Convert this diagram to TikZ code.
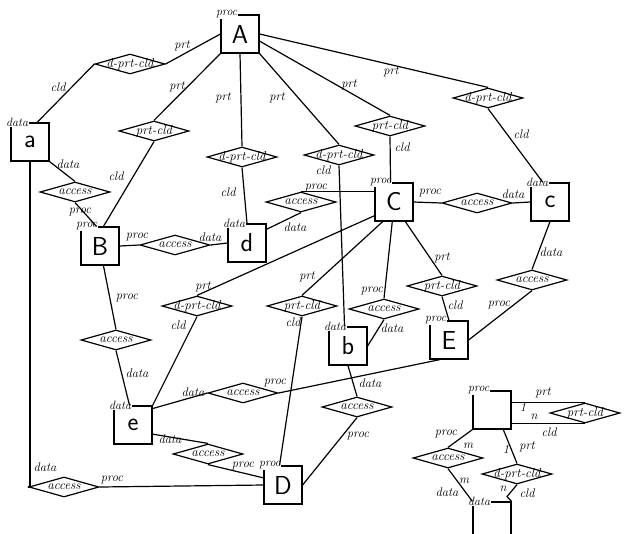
\documentclass[tikz,border=0pt]{standalone}
\usepackage{tikz}
\usetikzlibrary{shapes.geometric,calc}
\tikzset{
 ent/.style={draw, line width=1.2pt, minimum width=38pt, minimum height=38pt, inner sep=0pt, font=\sffamily\fontsize{26}{26}\selectfont},
 rel/.style={draw, diamond, minimum width=70pt, minimum height=20pt, inner sep=0pt, line width=1.2pt,
   label={[inner sep=0pt, font=\itshape\fontsize{13}{13}\selectfont]center:#1}},
 tag/.style={fill=white, inner sep=0.6pt, anchor=west, font=\itshape\fontsize{12}{12}\selectfont},
 lab/.style={inner sep=0pt, font=\itshape\fontsize{12.5}{12.5}\selectfont},
 con/.style={line width=1.2pt},
}
\begin{document}
\begin{tikzpicture}[x=1pt,y=-1pt]
\useasboundingbox (0,0) rectangle (628,533);
\clip (0,0) rectangle (628,533);
\fill[white] (0,0) rectangle (628,533);
% entities
\node[ent] (A) at (240,34) {A};
\node[ent] (a) at (30,142) {a};
\node[ent] (B) at (100,246) {B};
\node[ent] (d) at (247,243) {d};
\node[ent] (C) at (394,202) {C};
\node[ent] (c) at (550,202) {c};
\node[ent] (b) at (348,346) {b};
\node[ent] (E) at (449,340) {E};
\node[ent] (e) at (133,425) {e};
\node[ent] (D) at (283,485) {D};
\node[ent] (P) at (492,410) {};
\node[ent, minimum height=62pt] (Q) at (492,533) {};
% tags
\node[tag] (tA) at ([xshift=-5pt]A.north west) {proc};
\node[tag] (ta) at ([xshift=-5pt]a.north west) {data};
\node[tag] (tB) at ([xshift=-5pt]B.north west) {proc};
\node[tag] (td) at ([xshift=-5pt]d.north west) {data};
\node[tag] (tC) at ([xshift=-5pt]C.north west) {proc};
\node[tag] (tc) at ([xshift=-5pt]c.north west) {data};
\node[tag] (tb) at ([xshift=-5pt]b.north west) {data};
\node[tag] (tE) at ([xshift=-5pt]E.north west) {proc};
\node[tag] (te) at ([xshift=-5pt]e.north west) {data};
\node[tag] (tD) at ([xshift=-5pt]D.north west) {proc};
\node[tag] (tP) at ([xshift=-5pt]P.north west) {proc};
\node[tag] (tQ) at ([xshift=-5pt]Q.north west) {data};
% relationships
\node[rel=d-prt-cld] (d1) at (130,64) {};
\node[rel=prt-cld] (d2) at (154,131) {};
\node[rel=d-prt-cld] (d3) at (242,157) {};
\node[rel=d-prt-cld] (d4) at (339,155) {};
\node[rel=prt-cld] (d5) at (390,126) {};
\node[rel=d-prt-cld] (d6) at (488,98) {};
\node[rel=access] (a1) at (75,192) {};
\node[rel=access] (a2) at (175,245) {};
\node[rel=access] (a3) at (301,202) {};
\node[rel=access] (a4) at (477,203) {};
\node[rel=access] (a5) at (532,280) {};
\node[rel=prt-cld] (d7) at (442,286) {};
\node[rel=access] (a6) at (384,309) {};
\node[rel=prt-cld] (d8) at (302,306) {};
\node[rel=d-prt-cld] (d9) at (197,306) {};
\node[rel=access] (a7) at (116,340) {};
\node[rel=access] (a8) at (243,393) {};
\node[rel=access] (a9) at (208,454) {};
\node[rel=access] (a10) at (64,487) {};
\node[rel=access] (a11) at (357,407) {};
\node[rel=prt-cld] (d10) at (585,413) {};
\node[rel=access] (a12) at (448,458) {};
\node[rel=d-prt-cld] (d11) at (517,474) {};
% connectors
\draw[con] (A.west) -- (d1.east);
\draw[con] (d1.west) -- (a.70);
\draw[con] (A.south west) -- (d2.north);
\draw[con] (d2.south) -- (B.80);
\draw[con] (A.south) -- (d3.north);
\draw[con] (d3.south) -- (d.north);
\draw[con] (A.south east) -- (d4.north);
\draw[con] (d4.south) -- (b.100);
\draw[con] (A.-20) -- (d5.north);
\draw[con] (d5.south) -- (C.100);
\draw[con] (A.east) -- (d6.north);
\draw[con] (d6.south) -- (c.110);
\draw[con] (a.south east) -- (a1.north);
\draw[con] (a1.south) -- (B.100);
\draw[con] (B.east) -- (a2.west);
\draw[con] (a2.east) -- (d.west);
\draw[con] (a3.north) -- (a3.north -| C.west);
\draw[con] (d.35) -- (a3.south);
\draw[con] (C.east) -- (a4.west);
\draw[con] (a4.east) -- (c.west);
\draw[con] (c.south) -- (a5.north);
\draw[con] (a5.south) -- (E.east);
\draw[con] (C.-60) -- (d7.north);
\draw[con] (d7.south) -- (E.north);
\draw[con] (C.-95) -- (a6.north);
\draw[con] (a6.south) -- (b.east);
\draw[con] (C.-120) -- (d8.north);
\draw[con] (d8.south) -- (D.100);
\draw[con] (C.-145) -- (d9.north);
\draw[con] (d9.south) -- (e.north east);
\draw[con] (B.-80) -- (a7.north);
\draw[con] (a7.south) -- (e.100);
\draw[con] (e.40) -- (a8.west);
\draw[con] (a8.east) -- (E.-115);
\draw[con] (e.-25) -- (a9.north);
\draw[con] (a9.south) -- (D.160);
\draw[con] (a.south) -- (a.south |- a10.west) -- (a10.west);
\draw[con] (a10.east) -- (D.west);
\draw[con] (b.south) -- (a11.north);
\draw[con] (a11.south) -- (D.east);
\draw[con] (d10.north) -- (d10.north -| P.east);
\draw[con] (d10.south) -- (d10.south -| P.east);
\draw[con] (P.south west) -- (a12.north);
\draw[con] (a12.south) -- (Q.north west);
\draw[con] (P.-60) -- (d11.north);
\draw[con] (d11.south) -- ++(-10,12) -- (Q.north east);
% edge labels
\foreach \n/\x/\y/\t in {
 l1/182/46/prt, l2/58/87/cld, l3/177/87/prt, l4/116/176/cld,
 l5/223/98/prt, l6/228/192/cld, l7/277/98/prt, l8/323/170/cld,
 l9/349/85/prt, l10/402/147/cld, l11/391/72/prt, l12/521/134/cld,
 l13/68/164/data, l14/80/212/proc, l15/137/237/proc, l16/210/237/data,
 l17/316/188/proc, l18/295/227/data, l19/430/193/proc, l20/513/194/data,
 l21/551/252/data, l22/499/305/proc, l23/442/258/prt, l24/455/305/cld,
 l25/372/291/proc, l26/392/328/data, l27/307/277/prt, l28/293/322/cld,
 l29/203/287/prt, l30/178/325/cld, l31/127/298/proc, l32/137/373/data,
 l33/193/392/data, l34/275/383/proc, l35/170/439/data, l36/243/466/proc,
 l37/45/467/data, l38/112/480/proc, l39/370/383/data, l40/358/436/proc,
 l41/543/393/prt, l42/523/407/1, l43/534/417/n, l44/549/432/cld,
 l45/446/434/proc, l46/468/446/m, l47/447/492/data, l48/464/481/m,
 l49/506/449/1, l50/527/447/prt, l51/503/489/n, l52/527/493/cld}
 \node[lab] (\n) at (\x,\y) {\t};
\end{tikzpicture}
\end{document}
